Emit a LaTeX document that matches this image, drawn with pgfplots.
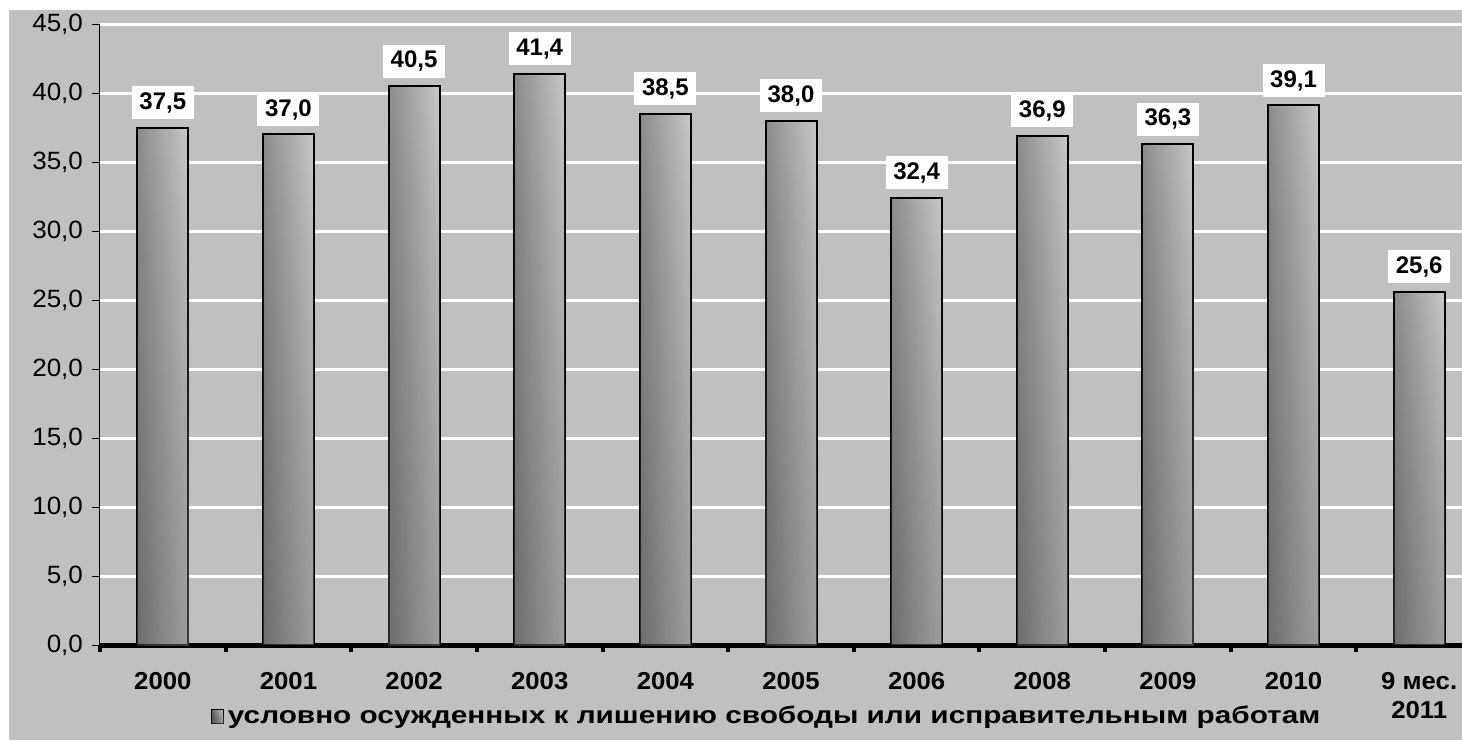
\documentclass[border=0pt]{standalone}
\usepackage{pgfplots}
\pgfplotsset{compat=1.18}
\usetikzlibrary{fadings}
\usepackage{fontspec}
\setmainfont{Liberation Sans}
\newfontfamily\ytickfont[FakeStretch=1.04]{Liberation Sans}
\newfontfamily\xtickfont[FakeStretch=1.05]{Liberation Sans}
\newfontfamily\legfont[FakeStretch=1.24]{Liberation Sans}

\definecolor{chartbg}{HTML}{C0C0C0}
\definecolor{barleft}{HTML}{8C8C8C}
\definecolor{barright}{HTML}{C8C8C8}

\pgfplotstableread{
idx value
0 37.5
1 37.0
2 40.5
3 41.4
4 38.5
5 38.0
6 32.4
7 36.9
8 36.3
9 39.1
10 25.6
}\convicted

\newcommand{\lbl}{\fontsize{12pt}{14.5pt}\selectfont}

\pgfplotsset{
  gradbar/.style={ybar, bar width=25.5pt, bar shift=0pt, draw=black, line width=1pt,
    left color=barleft, right color=barright,
    postaction={draw=none, fill=black, fill opacity=0.3, path fading=north},
    forget plot},
}

\begin{document}
\begin{tikzpicture}
\useasboundingbox (0,0) rectangle (731pt,370.5pt);
\clip (0,0) rectangle (731pt,370.5pt);
\fill[chartbg] (4.5pt,0.5pt) rectangle (731pt,365.5pt);
\begin{axis}[
  at={(50pt,48pt)}, anchor=south west,
  scale only axis, width=691pt, height=310.5pt,
  xmin=-0.5, xmax=10.5, ymin=0, ymax=45,
  axis x line=bottom, axis y line=left,
  axis line style={-},
  x axis line style={line width=2.5pt, black},
  y axis line style={line width=0.5pt, black},
  ytick={0,5,...,45},
  ymajorgrids, grid style={white, line width=1.5pt},
  tick align=outside,
  major tick length=4pt,
  minor tick length=3.5pt,
  y tick style={black, line width=0.5pt},
  major x tick style={draw=none},
  minor x tick style={black, line width=2pt},
  xtick={0,...,10},
  minor xtick={-0.5,0.5,1.5,2.5,3.5,4.5,5.5,6.5,7.5,8.5,9.5},
  xticklabels={2000,2001,2002,2003,2004,2005,2006,2008,2009,2010,{9 мес.\\2011}},
  x tick label style={font=\xtickfont\fontsize{12.25pt}{14.5pt}\selectfont\bfseries, align=center, anchor=north, yshift=-6pt},
  yticklabel={\ytickfont\fontsize{12.5pt}{14pt}\selectfont\pgfmathprintnumber[fixed, fixed zerofill, precision=1, use comma, assume math mode=true]{\tick}},
  y tick label style={anchor=east, xshift=-1pt},
  /pgf/number format/fixed,
  /pgf/number format/fixed zerofill,
  /pgf/number format/precision=1,
  /pgf/number format/use comma,
  /pgf/number format/assume math mode=true,
  legend style={draw=none, fill=none, font=\legfont\fontsize{12pt}{14pt}\selectfont\bfseries,
    at={(0.483,-0.115)}, anchor=center, legend cell align=left},
  legend image code/.code={\draw[black, line width=0.6pt, left color=barleft!70!black, right color=barright] (0pt,-3.5pt) rectangle (6pt,3.5pt);},
]
% one path per bar so that each bar carries its own gradient
\addplot[gradbar, forget plot=false] coordinates {(0,37.5)};
\addlegendentry{условно осужденных к лишению свободы или исправительным работам}
\addplot[gradbar] coordinates {(1,37.0)};
\addplot[gradbar] coordinates {(2,40.5)};
\addplot[gradbar] coordinates {(3,41.4)};
\addplot[gradbar] coordinates {(4,38.5)};
\addplot[gradbar] coordinates {(5,38.0)};
\addplot[gradbar] coordinates {(6,32.4)};
\addplot[gradbar] coordinates {(7,36.9)};
\addplot[gradbar] coordinates {(8,36.3)};
\addplot[gradbar] coordinates {(9,39.1)};
\addplot[gradbar] coordinates {(10,25.6)};
% value labels in white boxes
\addplot[ybar, bar width=25.5pt, bar shift=0pt, draw=none, fill=none, forget plot,
  nodes near coords,
  every node near coord/.append style={fill=white, font=\lbl\bfseries, inner sep=0pt,
    minimum width=31pt, minimum height=16.5pt, anchor=south, yshift=4pt, text=black}]
  table[x=idx, y=value] {\convicted};
\end{axis}
\end{tikzpicture}
\end{document}
